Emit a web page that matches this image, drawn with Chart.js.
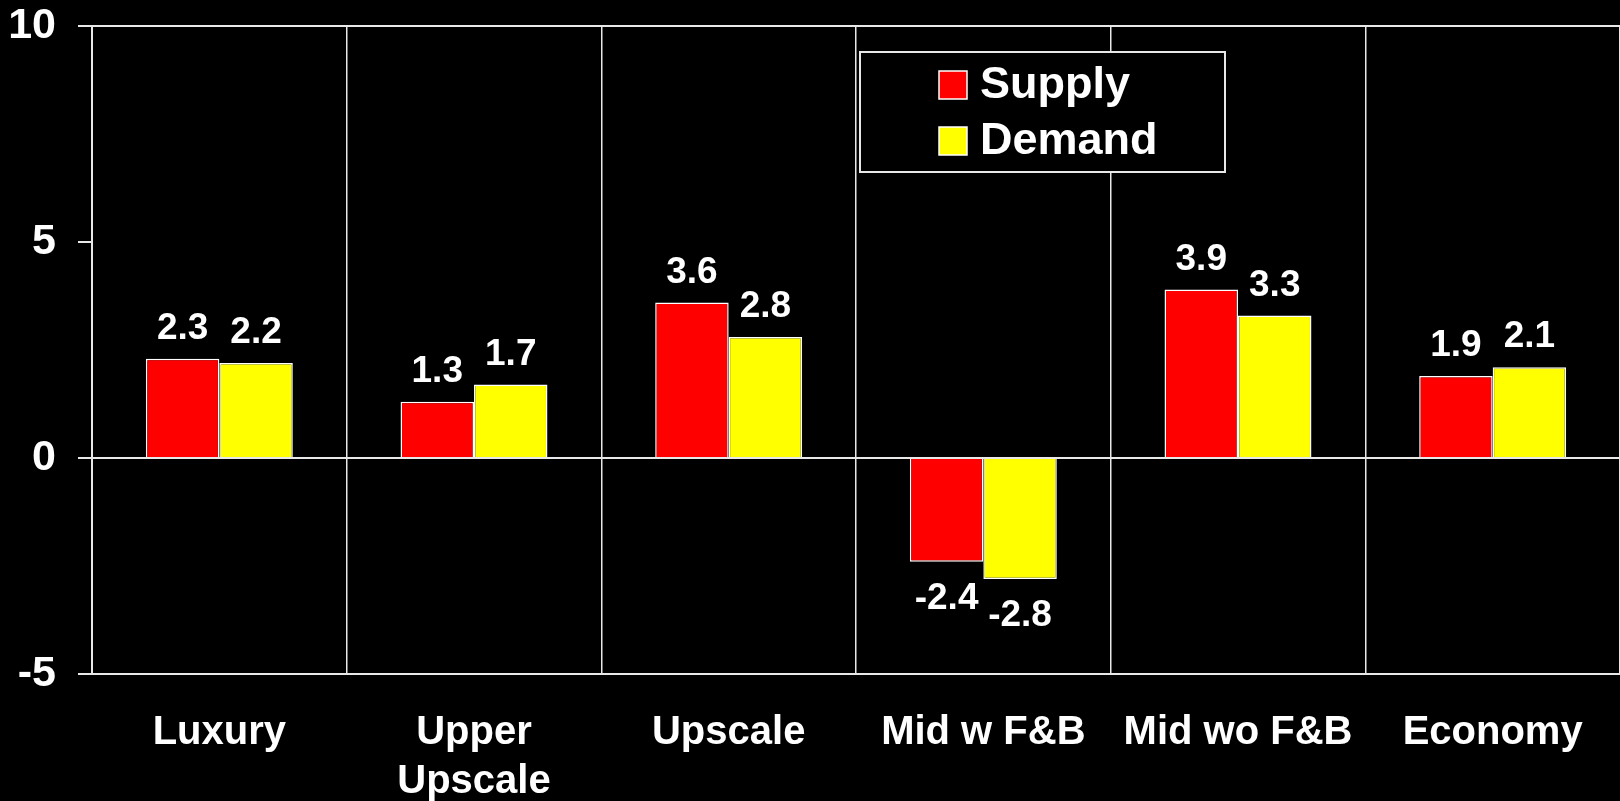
<!DOCTYPE html>
<html>
<head>
<meta charset="utf-8">
<script src="https://cdn.jsdelivr.net/npm/chart.js@4/dist/chart.umd.min.js"></script>
<style>
  html, body { margin: 0; padding: 0; background: #000; }
  .chartBox { width: 1620px; height: 801px; position: relative; }
</style>
</head>
<body>
<div class="chartBox"><canvas id="myChart"></canvas></div>
<script>
const categories = ['Luxury', ['Upper', 'Upscale'], 'Upscale', 'Mid w F&B', 'Mid wo F&B', 'Economy'];
const supplyValues = [2.3, 1.3, 3.6, -2.4, 3.9, 1.9];
const demandValues = [2.2, 1.7, 2.8, -2.8, 3.3, 2.1];
const yTicks = [-5, 0, 5, 10];
const seriesNames = ['Supply', 'Demand'];
const seriesColors = ['#ff0000', '#ffff00'];

const fontFamily = '"Liberation Sans", Arial, sans-serif';
const lineColor = '#e8e8e8';

// value labels above / below each bar
const valueLabels = {
  id: 'valueLabels',
  afterDatasetsDraw(chart) {
    const c = chart.ctx;
    c.save();
    c.font = 'bold 37px ' + fontFamily;
    c.fillStyle = '#fff';
    c.textAlign = 'center';
    c.textBaseline = 'middle';
    chart.data.datasets.forEach((ds, i) => {
      chart.getDatasetMeta(i).data.forEach((bar, j) => {
        const v = ds.data[j];
        const y = v >= 0 ? bar.y - 30 : bar.y + 37;
        c.fillText(v.toFixed(1), bar.x, y);
      });
    });
    c.restore();
  }
};

// boxed legend sitting inside the plot
const boxLegend = {
  id: 'boxLegend',
  afterDraw(chart) {
    const c = chart.ctx;
    const left = 860, top = 52, w = 365, h = 120;
    c.save();
    c.fillStyle = '#000';
    c.fillRect(left, top, w, h);
    c.strokeStyle = lineColor;
    c.lineWidth = 2;
    c.strokeRect(left, top, w, h);
    c.font = 'bold 45px ' + fontFamily;
    c.textBaseline = 'middle';
    c.textAlign = 'left';
    chart.data.datasets.forEach((ds, i) => {
      const sy = top + 19 + i * 56;
      c.fillStyle = ds.backgroundColor;
      c.fillRect(left + 79, sy, 28, 28);
      c.strokeStyle = '#fff';
      c.lineWidth = 1.5;
      c.strokeRect(left + 79, sy, 28, 28);
      c.fillStyle = '#fff';
      c.fillText(ds.label, left + 120, sy + 15);
    });
    c.restore();
  }
};

const ctx = document.getElementById('myChart');

new Chart(ctx, {
  type: 'bar',
  data: {
    labels: categories,
    datasets: [
      {
        label: seriesNames[0],
        data: supplyValues,
        backgroundColor: seriesColors[0],
        borderColor: '#fff',
        borderWidth: 1.5
      },
      {
        label: seriesNames[1],
        data: demandValues,
        backgroundColor: seriesColors[1],
        borderColor: '#fff',
        borderWidth: 1.5
      }
    ]
  },
  options: {
    responsive: true,
    maintainAspectRatio: false,
    animation: false,
    layout: { padding: { top: 26, left: 0, right: 0, bottom: 0 } },
    datasets: {
      bar: { barPercentage: 1.0, categoryPercentage: 0.577 }
    },
    plugins: {
      legend: { display: false },
      tooltip: { enabled: false }
    },
    scales: {
      x: {
        grid: {
          offset: true,
          color: lineColor,
          lineWidth: 1.5,
          drawTicks: false
        },
        border: { color: lineColor, width: 2 },
        ticks: {
          color: '#fff',
          padding: 35,
          maxRotation: 0,
          autoSkip: false,
          font: { family: fontFamily, size: 40, weight: 'bold', lineHeight: 1.215 }
        },
        afterFit(scale) {
          scale.height = 127;
          scale.paddingLeft = 0;
          scale.paddingRight = 0;
        }
      },
      y: {
        min: yTicks[0],
        max: yTicks[yTicks.length - 1],
        afterBuildTicks(scale) {
          scale.ticks = yTicks.map(v => ({ value: v }));
        },
        grid: {
          color: c => (c.tick && c.tick.value === 5) ? 'rgba(0,0,0,0)' : lineColor,
          tickColor: lineColor,
          lineWidth: 2,
          tickLength: 14
        },
        border: { color: lineColor, width: 2 },
        ticks: {
          color: '#fff',
          padding: 22,
          font: { family: fontFamily, size: 43, weight: 'bold' }
        },
        afterFit(scale) {
          scale.width = 92;
          scale.paddingTop = 0;
          scale.paddingBottom = 0;
        }
      }
    }
  },
  plugins: [valueLabels, boxLegend]
});
</script>
</body>
</html>
